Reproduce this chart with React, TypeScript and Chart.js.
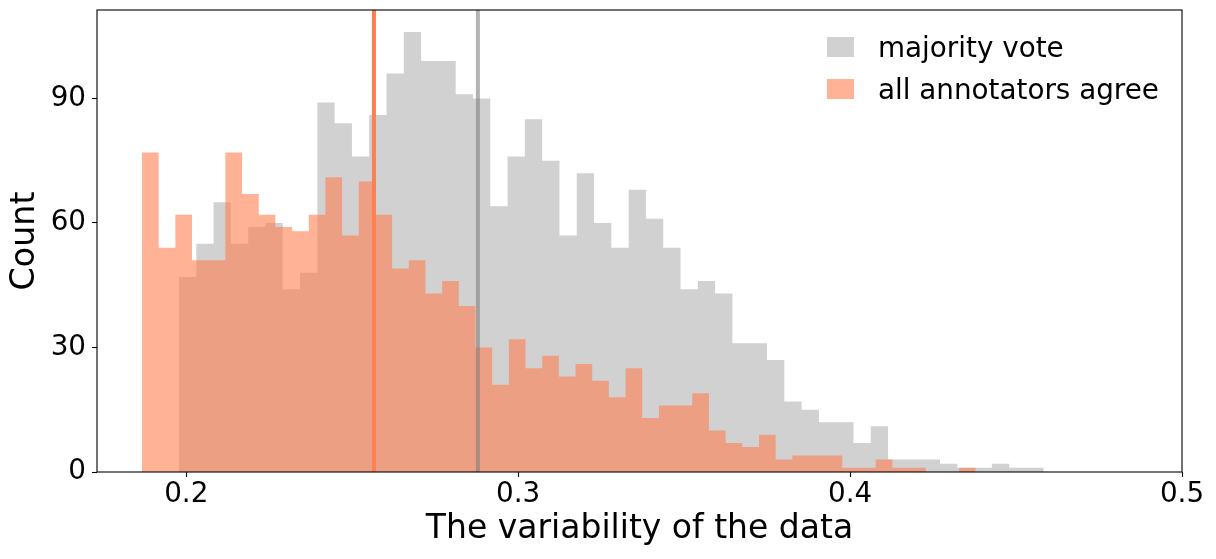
import React, { useEffect, useRef } from 'react'
import { Chart, registerables } from 'chart.js'

Chart.register(...registerables)

// histogram counts, one value per bin
const majorityCounts = [
	47, 55, 65, 55, 59, 60, 44, 48, 89, 84, 76, 86, 96, 106, 99, 99, 91, 90, 64, 76,
	85, 75, 57, 72, 60, 54, 68, 61, 54, 44, 46, 43, 31, 31, 27, 17, 15, 12, 12, 7,
	11, 3, 3, 3, 2, 1, 1, 2, 1, 1,
]
const agreeCounts = [
	77, 54, 62, 51, 51, 77, 67, 62, 59, 58, 62, 71, 57, 70, 62, 49, 51, 43, 46, 40,
	30, 21, 32, 25, 28, 23, 26, 22, 18, 25, 13, 16, 16, 19, 10, 7, 6, 9, 3, 4,
	4, 4, 1, 1, 3, 1, 1, 0, 0, 1,
]
// bin layout (left edge of first bin, bin width)
const majorityStart = 0.1978
const majorityBinWidth = 0.0052108
const agreeStart = 0.18666
const agreeBinWidth = 0.005024
// vertical reference lines
const majorityMark = 0.28786
const agreeMark = 0.25654

const seriesLabels = ['majority vote', 'all annotators agree']
const xTicks = [0.2, 0.3, 0.4, 0.5]
const yTicks = [0, 30, 60, 90]
const xRange = [0.1731, 0.5]
const yRange = [0, 111.3]

const FONT = 'DejaVu Sans'
const GRAY_FILL = 'rgba(128,128,128,0.36)'
const CORAL_FILL = 'rgba(255,127,80,0.6)'

const toSteps = (start: number, width: number, counts: number[]) => {
	const pts = counts.map((c, i) => ({ x: start + i * width, y: c }))
	pts.push({ x: start + counts.length * width, y: counts[counts.length - 1] })
	return pts
}

const boxLegend = {
	id: 'boxLegend',
	afterDraw(chart: any) {
		const { ctx, chartArea } = chart
		const items = seriesLabels
			.map(l => chart.data.datasets.find((d: any) => d.label === l))
			.filter(Boolean)
		const x0 = chartArea.right - 355
		ctx.save()
		ctx.font = `27.8px "${FONT}"`
		ctx.textBaseline = 'alphabetic'
		ctx.textAlign = 'left'
		items.forEach((d: any, i: number) => {
			const y = chartArea.top + 27 + i * 42
			ctx.fillStyle = d.backgroundColor
			ctx.fillRect(x0, y, 27, 20)
			ctx.fillStyle = '#000'
			ctx.fillText(d.label, x0 + 51, y + 20)
		})
		ctx.restore()
	},
}

const frame = {
	id: 'frame',
	afterDraw(chart: any) {
		const { ctx, chartArea } = chart
		ctx.save()
		ctx.strokeStyle = '#000'
		ctx.lineWidth = 1.1
		ctx.strokeRect(
			chartArea.left,
			chartArea.top,
			chartArea.right - chartArea.left,
			chartArea.bottom - chartArea.top
		)
		ctx.restore()
	},
}

const tickFont = { family: FONT, size: 27.8 }
const titleFont = { family: FONT, size: 33 }

const App: React.FC = () => {
	const chartRef = useRef<HTMLCanvasElement | null>(null)

	useEffect(() => {
		if (!chartRef.current) return
		const chart = new Chart(chartRef.current, {
			type: 'line',
			data: {
				datasets: [
					{
						data: [
							{ x: agreeMark, y: yRange[0] },
							{ x: agreeMark, y: yRange[1] },
						],
						borderColor: 'rgb(255,127,80)',
						borderWidth: 4,
						pointRadius: 0,
						fill: false,
						clip: 0,
						order: 0,
					},
					{
						data: [
							{ x: majorityMark, y: yRange[0] },
							{ x: majorityMark, y: yRange[1] },
						],
						borderColor: 'rgba(128,128,128,0.6)',
						borderWidth: 4,
						pointRadius: 0,
						fill: false,
						clip: 0,
						order: 0,
					},
					{
						label: seriesLabels[1],
						data: toSteps(agreeStart, agreeBinWidth, agreeCounts),
						stepped: true,
						fill: 'origin',
						backgroundColor: CORAL_FILL,
						borderColor: 'transparent',
						borderWidth: 0,
						pointRadius: 0,
						order: 1,
					},
					{
						label: seriesLabels[0],
						data: toSteps(majorityStart, majorityBinWidth, majorityCounts),
						stepped: true,
						fill: 'origin',
						backgroundColor: GRAY_FILL,
						borderColor: 'transparent',
						borderWidth: 0,
						pointRadius: 0,
						order: 2,
					},
				],
			},
			options: {
				responsive: false,
				animation: false,
				events: [],
				layout: { padding: { left: 0, top: 10, right: 34, bottom: 0 } },
				plugins: {
					legend: { display: false },
					tooltip: { enabled: false },
				},
				scales: {
					x: {
						type: 'linear',
						min: xRange[0],
						max: xRange[1],
						afterBuildTicks: (scale: any) => {
							scale.ticks = xTicks.map(value => ({ value }))
						},
						afterFit: (scale: any) => {
							scale.height = 87
							scale.paddingLeft = 0
							scale.paddingRight = 0
						},
						ticks: {
							autoSkip: false,
							maxRotation: 0,
							color: '#000',
							font: tickFont,
							padding: 1,
							callback: (value: any) => Number(value).toFixed(1),
						},
						grid: {
							drawOnChartArea: false,
							drawTicks: true,
							tickLength: 5,
							tickWidth: 1.1,
							tickColor: '#000',
						},
						border: { display: false },
						title: {
							display: true,
							text: 'The variability of the data',
							color: '#000',
							font: titleFont,
							padding: { top: 0, bottom: 9.6 },
						},
					},
					y: {
						type: 'linear',
						min: yRange[0],
						max: yRange[1],
						afterBuildTicks: (scale: any) => {
							scale.ticks = yTicks.map(value => ({ value }))
						},
						afterFit: (scale: any) => {
							scale.width = 97
							scale.paddingTop = 0
							scale.paddingBottom = 0
						},
						ticks: {
							autoSkip: false,
							color: '#000',
							font: tickFont,
							padding: 6,
							callback: (value: any) => String(value),
						},
						grid: {
							drawOnChartArea: false,
							drawTicks: true,
							tickLength: 5,
							tickWidth: 1.1,
							tickColor: '#000',
						},
						border: { display: false },
						title: {
							display: true,
							text: 'Count',
							color: '#000',
							font: { family: FONT, size: 33.3 },
							padding: { top: 5, bottom: 0 },
						},
					},
				},
			},
			plugins: [boxLegend, frame],
		} as any)

		return () => {
			chart.destroy()
		}
	}, [])

	return (
		<div
			style={{
				position: 'fixed',
				left: 0,
				top: 0,
				width: 1216,
				height: 559,
				background: '#fff',
			}}
		>
			<canvas ref={chartRef} width={1216} height={559} style={{ display: 'block' }} />
		</div>
	)
}

export default App
